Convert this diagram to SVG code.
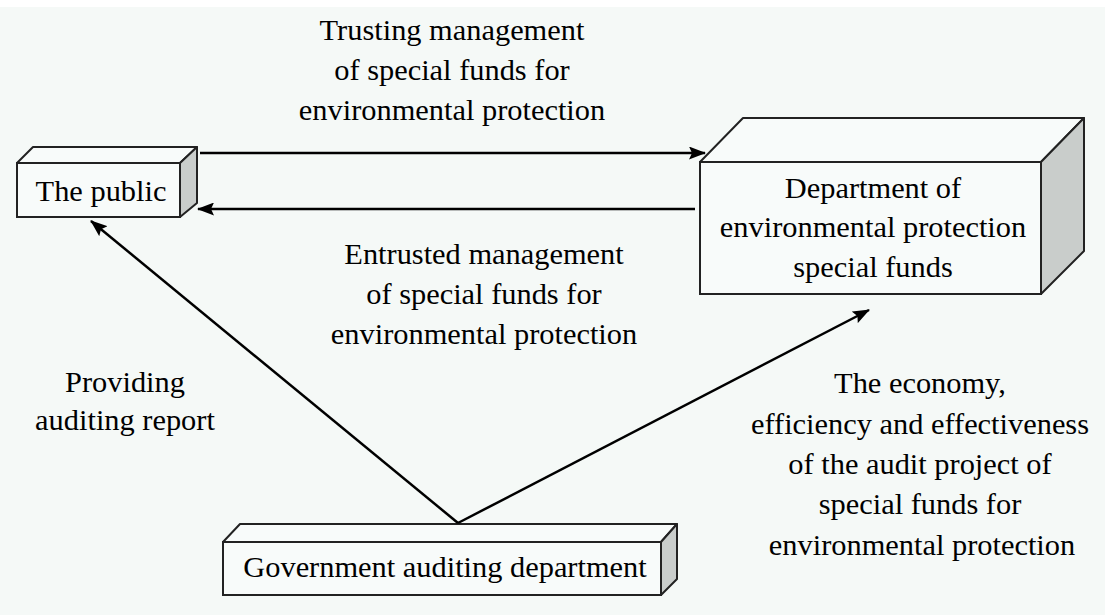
<svg xmlns="http://www.w3.org/2000/svg" width="1105" height="615" viewBox="0 0 1105 615">
<defs>
<marker id="arr" viewBox="0 0 17 13" refX="16" refY="6.5" markerWidth="17" markerHeight="13" markerUnits="userSpaceOnUse" orient="auto">
<path d="M0,0 L17,6.5 L0,13 L3,6.5 z" fill="#000"/>
</marker>
</defs>
<style>
text{font-family:"Liberation Serif","Times New Roman",serif;font-size:30.4px;fill:#000;text-anchor:middle}
.front{fill:#f8fbfa;stroke:#222;stroke-width:2}
.top{fill:#f8fbfa;stroke:#222;stroke-width:2;stroke-linejoin:round}
.side{fill:#c9cdcb;stroke:#222;stroke-width:2;stroke-linejoin:round}
.conn{stroke:#000;stroke-width:2.5;fill:none}
</style>
<rect x="0" y="0" width="1105" height="615" fill="#f5f9f7"/>
<rect x="0" y="0" width="1105" height="7" fill="#ffffff"/>

<g id="node-public">
<polygon class="top" points="17,163 33,147 197,147 180,163"/>
<polygon class="side" points="180,163 197,147 197,203 180,217"/>
<rect class="front" x="17" y="163" width="163" height="54"/>
<text x="101" y="201">The public</text>
</g>

<g id="node-department">
<polygon class="top" points="700,162 743,118 1084,118 1041,162"/>
<polygon class="side" points="1041,162 1084,118 1084,251 1041,294"/>
<rect class="front" x="700" y="162" width="341" height="132"/>
<text x="873" y="198">Department of</text>
<text x="873" y="237">environmental protection</text>
<text x="873" y="277">special funds</text>
</g>

<g id="node-government">
<polygon class="top" points="223,542 240,524 677,524 661,542"/>
<polygon class="side" points="661,542 677,524 677,579 661,595"/>
<rect class="front" x="223" y="542" width="438" height="53"/>
<text x="445" y="577">Government auditing department</text>
</g>

<g id="connectors">
<line class="conn" x1="200" y1="153" x2="705" y2="153" marker-end="url(#arr)"/>
<line class="conn" x1="695" y1="209" x2="198" y2="209" marker-end="url(#arr)"/>
<line class="conn" x1="458" y1="523" x2="91" y2="221" marker-end="url(#arr)"/>
<line class="conn" x1="458" y1="523" x2="869" y2="310" marker-end="url(#arr)"/>
</g>

<g id="labels">
<text x="452" y="40">Trusting management</text>
<text x="452" y="80">of special funds for</text>
<text x="452" y="120">environmental protection</text>
<text x="484" y="264">Entrusted management</text>
<text x="484" y="304">of special funds for</text>
<text x="484" y="344">environmental protection</text>
<text x="125" y="392">Providing</text>
<text x="125" y="430">auditing report</text>
<text x="920" y="393">The economy,</text>
<text x="920" y="434">efficiency and effectiveness</text>
<text x="920" y="474">of the audit project of</text>
<text x="920" y="514">special funds for</text>
<text x="922" y="555">environmental protection</text>
</g>
</svg>
